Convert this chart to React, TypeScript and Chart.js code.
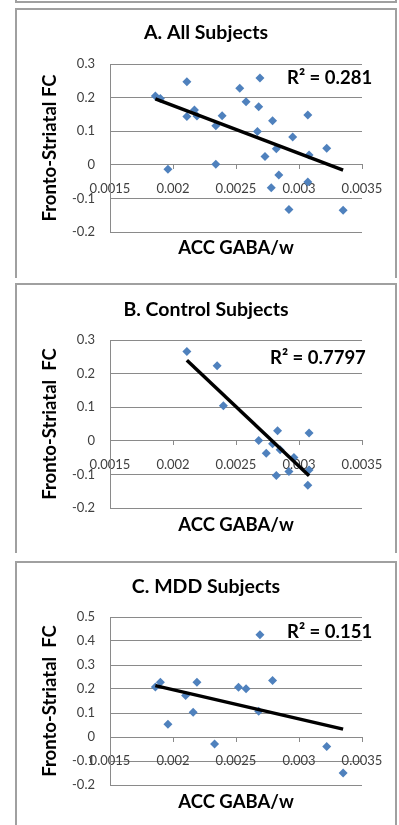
import React, { useEffect, useRef } from "react";
import { Chart, registerables } from "chart.js";
Chart.register(...registerables);

const FONT = "Lato, 'Open Sans', sans-serif";
const GRID = "#8a8a8a";
const TICK_COLOR = "#404040";
const POINT_COLOR = "#4F81BD";

// ---- ticks ----
const xTickValues = [0.0015, 0.002, 0.0025, 0.003, 0.0035];
const xTickLabels = ["0.0015", "0.002", "0.0025", "0.003", "0.0035"];
const yTickValuesAB = [-0.2, -0.1, 0, 0.1, 0.2, 0.3];
const yTickLabelsAB = ["-0.2", "-0.1", "0", "0.1", "0.2", "0.3"];
const yTickValuesC = [-0.2, -0.1, 0, 0.1, 0.2, 0.3, 0.4, 0.5];
const yTickLabelsC = ["-0.2", "-0.1", "0", "0.1", "0.2", "0.3", "0.4", "0.5"];

// ---- A. All Subjects ----
const allX = [0.00186, 0.0019, 0.00196, 0.00211, 0.00211, 0.00217, 0.00219, 0.00234, 0.00234, 0.00239, 0.00253, 0.00258, 0.00269, 0.00268, 0.00267, 0.00273, 0.00279, 0.00282, 0.00278, 0.00284, 0.00295, 0.00292, 0.00307, 0.00308, 0.00307, 0.00322, 0.00335];
const allY = [0.205, 0.197, -0.013, 0.247, 0.144, 0.163, 0.145, 0.002, 0.116, 0.146, 0.228, 0.188, 0.258, 0.173, 0.099, 0.025, 0.131, 0.048, -0.068, -0.03, 0.083, -0.133, 0.148, 0.029, -0.051, 0.049, -0.135];
const allTrendX = [0.00186, 0.00335];
const allTrendY = [0.196, -0.016];

// ---- B. Control Subjects ----
const ctrlX = [0.00211, 0.00235, 0.0024, 0.00268, 0.00274, 0.00279, 0.00283, 0.00285, 0.00282, 0.00296, 0.00292, 0.00308, 0.00308, 0.00307];
const ctrlY = [0.266, 0.223, 0.104, 0.001, -0.037, -0.009, 0.03, -0.027, -0.103, -0.05, -0.091, 0.023, -0.087, -0.132];
const ctrlTrendX = [0.00211, 0.00308];
const ctrlTrendY = [0.24, -0.104];

// ---- C. MDD Subjects ----
const mddX = [0.00186, 0.0019, 0.00196, 0.0021, 0.00216, 0.00219, 0.00233, 0.00252, 0.00258, 0.00269, 0.00268, 0.00279, 0.00322, 0.00335];
const mddY = [0.208, 0.228, 0.053, 0.173, 0.103, 0.228, -0.029, 0.207, 0.201, 0.426, 0.107, 0.235, -0.04, -0.15];
const mddTrendX = [0.00186, 0.00335];
const mddTrendY = [0.214, 0.033];

type PanelProps = {
  top: number;
  height: number;
  title: string;
  titleY: number;
  yTitle: string;
  xTitle: string;
  xs: number[];
  ys: number[];
  tx: number[];
  ty: number[];
  yMin: number;
  yMax: number;
  yTicks: number[];
  yLabels: string[];
  r2: string;
  r2X: number;
  r2Y: number;
  xTitleY: number;
  topPad: number;
  bottomPad: number;
};

function Panel(p: PanelProps) {
  const ref = useRef<HTMLCanvasElement>(null);
  useEffect(() => {
    if (!ref.current) return;
    const points = p.xs.map((x, i) => ({ x, y: p.ys[i] }));
    const trend = p.tx.map((x, i) => ({ x, y: p.ty[i] }));
    const textPlugin = {
      id: "panelText",
      afterDraw(chart: any) {
        const { ctx, chartArea } = chart;
        ctx.save();
        ctx.fillStyle = "#000";
        ctx.textBaseline = "middle";
        ctx.textAlign = "center";
        ctx.font = `bold 19.5px ${FONT}`;
        ctx.fillText(p.title, 206, p.titleY);
        ctx.font = `bold 18.5px ${FONT}`;
        ctx.fillText(p.xTitle, (chartArea.left + chartArea.right) / 2, p.xTitleY);
        ctx.textAlign = "left";
        ctx.font = `bold 18.5px ${FONT}`;
        ctx.fillText(p.r2, p.r2X, p.r2Y);
        ctx.restore();
      },
    };
    const chart = new Chart(ref.current, {
      type: "scatter",
      data: {
        datasets: [
          {
            type: "line",
            data: trend,
            borderColor: "#000",
            borderWidth: 3.5,
            pointRadius: 0,
            showLine: true,
            fill: false,
            order: 0,
          } as any,
          {
            data: points,
            backgroundColor: POINT_COLOR,
            borderColor: POINT_COLOR,
            borderWidth: 0,
            pointStyle: "rectRot",
            pointRadius: 4.5,
            order: 1,
          },
        ],
      },
      options: {
        responsive: false,
        animation: false,
        events: [],
        layout: { padding: { left: 0, right: 37, top: p.topPad, bottom: p.bottomPad } },
        plugins: {
          legend: { display: false },
          tooltip: { enabled: false },
          title: { display: false },
        },
        scales: {
          x: {
            type: "linear",
            position: { y: 0 } as any,
            min: 0.0015,
            max: 0.0035,
            afterBuildTicks: (s: any) => {
              s.ticks = xTickValues.map((v) => ({ value: v }));
            },
            ticks: {
              callback: (_v: any, i: number) => xTickLabels[i],
              color: TICK_COLOR,
              font: { family: FONT, size: 13 },
              padding: 12,
              maxRotation: 0,
              autoSkip: false,
            },
            grid: { drawOnChartArea: false, drawTicks: true, tickLength: 4, color: GRID },
            border: { display: true, color: GRID, width: 1 },
          },
          y: {
            type: "linear",
            position: "left",
            min: p.yMin,
            max: p.yMax,
            afterBuildTicks: (s: any) => {
              s.ticks = p.yTicks.map((v) => ({ value: v }));
            },
            afterFit: (s: any) => {
              s.width = 110;
            },
            ticks: {
              callback: (_v: any, i: number) => p.yLabels[i],
              color: TICK_COLOR,
              font: { family: FONT, size: 13 },
              padding: 15,
              autoSkip: false,
            },
            grid: { color: GRID, drawTicks: false },
            border: { display: true, color: GRID, width: 1 },
            title: {
              display: true,
              text: p.yTitle,
              color: "#000",
              font: { family: FONT, size: 18.5, weight: "bold" },
              padding: { top: 39, bottom: 0 },
            },
          },
        },
      } as any,
      plugins: [textPlugin],
    });
    return () => chart.destroy();
  }, []);
  return (
    <canvas
      ref={ref}
      width={399}
      height={p.height}
      style={{ position: "absolute", left: 0, top: p.top, width: 399, height: p.height }}
    />
  );
}

const BORDER = "2px solid #a0a0a0";

function Box({ top, height, bottom }: { top: number; height: number; bottom?: boolean }) {
  return (
    <div
      style={{
        position: "absolute",
        left: 15,
        top,
        width: 382,
        height,
        boxSizing: "border-box",
        borderLeft: BORDER,
        borderRight: BORDER,
        borderTop: bottom ? "none" : BORDER,
        borderBottom: bottom ? BORDER : "none",
      }}
    />
  );
}

export default function App() {
  return (
    <div
      style={{
        position: "absolute",
        left: 0,
        top: 0,
        width: 399,
        height: 825,
        overflow: "hidden",
        background: "#fff",
      }}
    >
      <Box top={-10} height={13} bottom />
      <Box top={8} height={270} />
      <Box top={283} height={270} />
      <Box top={561} height={270} />
      <Panel
        top={8}
        height={270}
        title="A. All Subjects"
        titleY={25}
        yTitle="Fronto-Striatal FC"
        xTitle="ACC GABA/w"
        xs={allX}
        ys={allY}
        tx={allTrendX}
        ty={allTrendY}
        yMin={-0.2}
        yMax={0.3}
        yTicks={yTickValuesAB}
        yLabels={yTickLabelsAB}
        r2="R² = 0.281"
        r2X={287}
        r2Y={70}
        xTitleY={240}
        topPad={56}
        bottomPad={46}
      />
      <Panel
        top={283}
        height={270}
        title="B. Control Subjects"
        titleY={27}
        yTitle="Fronto-Striatal  FC"
        xTitle="ACC GABA/w"
        xs={ctrlX}
        ys={ctrlY}
        tx={ctrlTrendX}
        ty={ctrlTrendY}
        yMin={-0.2}
        yMax={0.3}
        yTicks={yTickValuesAB}
        yLabels={yTickLabelsAB}
        r2="R² = 0.7797"
        r2X={270}
        r2Y={75}
        xTitleY={242}
        topPad={57}
        bottomPad={45}
      />
      <Panel
        top={561}
        height={264}
        title="C. MDD Subjects"
        titleY={26}
        yTitle="Fronto-Striatal  FC"
        xTitle="ACC GABA/w"
        xs={mddX}
        ys={mddY}
        tx={mddTrendX}
        ty={mddTrendY}
        yMin={-0.2}
        yMax={0.5}
        yTicks={yTickValuesC}
        yLabels={yTickLabelsC}
        r2="R² = 0.151"
        r2X={287}
        r2Y={71}
        xTitleY={241}
        topPad={56}
        bottomPad={40}
      />
    </div>
  );
}
